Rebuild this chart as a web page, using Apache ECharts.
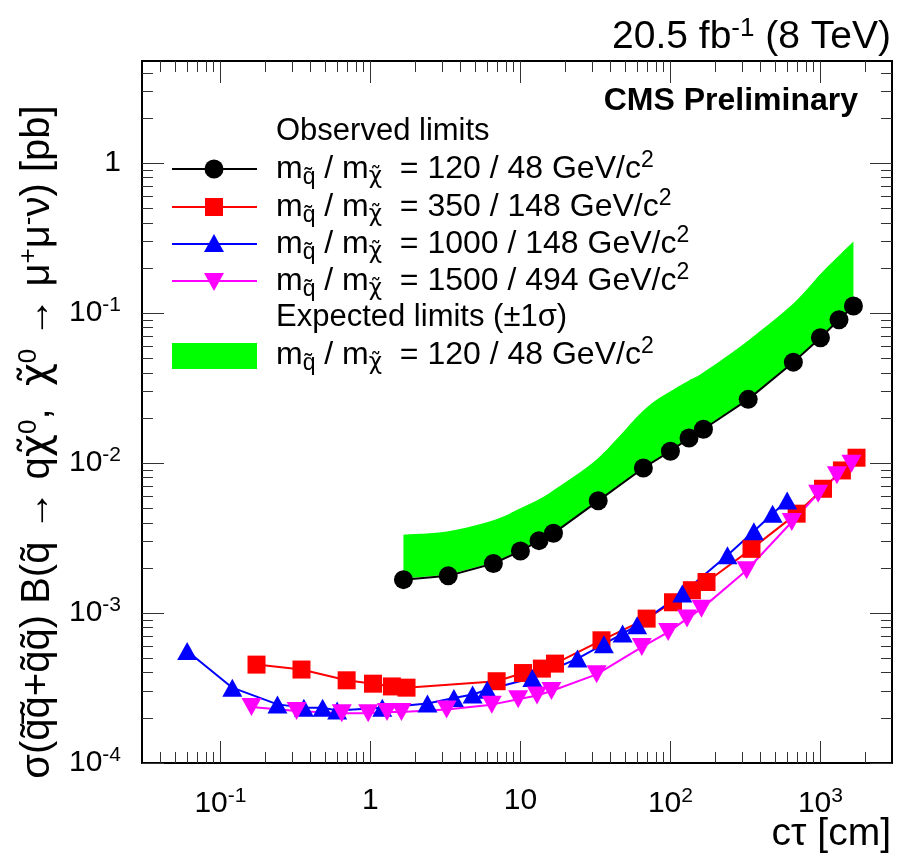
<!DOCTYPE html>
<html><head><meta charset="utf-8">
<script src="https://cdn.jsdelivr.net/npm/echarts@6/dist/echarts.min.js"></script>
<style>html,body{margin:0;padding:0;background:#fff}#c{width:897px;height:857px}</style>
</head><body><div id="c"></div>
<script>
// ---------------- data ----------------
const ctauBlack = [1.66, 3.3, 6.6, 10, 13.3, 16.6, 33, 66, 100, 133, 166, 330, 660, 1000, 1330, 1660];
const obs120 = [1.67e-3, 1.77e-3, 2.14e-3, 2.59e-3, 3.04e-3, 3.40e-3, 5.6e-3, 9.27e-3, 0.0120, 0.0147, 0.0168, 0.0266, 0.0471, 0.0686, 0.0904, 0.1114];
const expLow120 = [1.70e-3, 1.80e-3, 2.17e-3, 2.62e-3, 3.07e-3, 3.43e-3, 5.65e-3, 9.35e-3, 0.0121, 0.0148, 0.0170, 0.0269, 0.0476, 0.0693, 0.0913, 0.1100];
const expHigh120 = [3.33e-3, 3.51e-3, 4.15e-3, 4.99e-3, 5.73e-3, 6.58e-3, 0.0108, 0.0224, 0.0301, 0.0356, 0.0403, 0.0658, 0.116, 0.182, 0.242, 0.300];

const ctauRed = [0.174, 0.347, 0.694, 1.04, 1.39, 1.74, 6.94, 10.4, 13.9, 17.0, 34.7, 69.4, 104, 139, 174, 347, 694, 1040, 1390, 1740];
const obs350 = [4.53e-4, 4.20e-4, 3.56e-4, 3.38e-4, 3.24e-4, 3.18e-4, 3.51e-4, 3.98e-4, 4.26e-4, 4.60e-4, 6.58e-4, 9.18e-4, 1.18e-3, 1.42e-3, 1.61e-3, 2.68e-3, 4.60e-3, 6.74e-3, 8.93e-3, 0.01086];

const ctauBlue = [0.06, 0.12, 0.24, 0.36, 0.48, 0.6, 1.2, 2.4, 3.6, 4.8, 6.0, 12, 24, 36, 48, 60, 120, 240, 360, 480, 600];
const obs1000 = [5.58e-4, 3.18e-4, 2.46e-4, 2.34e-4, 2.34e-4, 2.24e-4, 2.34e-4, 2.49e-4, 2.71e-4, 2.86e-4, 3.08e-4, 3.69e-4, 4.97e-4, 6.2e-4, 7.3e-4, 8.28e-4, 1.35e-3, 2.43e-3, 3.51e-3, 4.6e-3, 5.64e-3];

const ctauMag = [0.161, 0.322, 0.644, 0.966, 1.29, 1.61, 3.22, 6.44, 9.66, 12.9, 16.1, 32.2, 64.4, 96.6, 129, 161, 322, 644, 966, 1288, 1610];
const obs1500 = [2.36e-4, 2.22e-4, 2.15e-4, 2.15e-4, 2.19e-4, 2.19e-4, 2.27e-4, 2.45e-4, 2.66e-4, 2.82e-4, 3.02e-4, 3.90e-4, 5.93e-4, 7.46e-4, 9.18e-4, 1.07e-3, 1.93e-3, 4.05e-3, 6.25e-3, 8.28e-3, 9.9e-3];

const legendMasses = ['120 / 48', '350 / 148', '1000 / 148', '1500 / 494'];
const xTickExp = [-1, 0, 1, 2, 3];
const yTickExp = [-4, -3, -2, -1, 0];
const xRange = [0.03, 3000];
const yRange = [1e-4, 4.8];

// ---------------- helpers ----------------
const FONT = '"Liberation Sans", Arial, Helvetica, sans-serif';
const FONT2 = '"DejaVu Sans", "Liberation Sans", sans-serif';
const L = v => Math.log10(v);
const pairs = (xs, ys) => xs.map((x, i) => [L(x), L(ys[i])]);
const xMin = L(xRange[0]), xMax = L(xRange[1]);
const yMin = L(yRange[0]), yMax = L(yRange[1]);
function minorTicks(lo, hi) {
  const out = [];
  for (let k = Math.floor(lo); k <= Math.ceil(hi); k++) {
    for (let m = 2; m <= 9; m++) {
      const v = k + Math.log10(m);
      if (v > lo + 1e-9 && v < hi - 1e-9) out.push(v);
    }
  }
  return out;
}
function expLabel(v) {
  const e = Math.round(v);
  if (e === 0) return '1';
  if (e === 1) return '10';
  return '10{sup|' + e + '}';
}
const tickStyle = { color: '#333', width: 1 };
const labelRich = { sup: { fontSize: 21, fontFamily: FONT, color: '#000', padding: [0, 0, 15, 0] } };

function makeAxis(dim, pos, major, withLabel) {
  const isX = dim === 'x';
  const lo = isX ? xMin : yMin, hi = isX ? xMax : yMax;
  const majors = isX ? xTickExp : yTickExp;
  return {
    type: 'value', position: pos, min: lo, max: hi, gridIndex: 0,
    axisLine: { show: false, onZero: false },
    splitLine: { show: false },
    axisTick: { show: true, inside: true, length: major ? 22 : 11,
      customValues: major ? majors : minorTicks(lo, hi), lineStyle: tickStyle },
    axisLabel: { show: withLabel, customValues: majors, formatter: expLabel,
      margin: isX ? 23 : 21, fontSize: 30, fontFamily: FONT, color: '#000', rich: labelRich },
    axisPointer: { show: false }
  };
}

function lineSeries(name, xs, ys, color, symbol, size, rotate) {
  return {
    type: 'line', name, data: pairs(xs, ys), xAxisIndex: 0, yAxisIndex: 0,
    symbol, symbolSize: size, symbolRotate: rotate || 0, showAllSymbol: true,
    itemStyle: { color }, lineStyle: { color, width: 2 },
    emphasis: { disabled: true }, z: 3, clip: true
  };
}

// smooth (Catmull-Rom) path through pixel points, then straight back along second list
function bandPath(up, lo) {
  const f = v => v.toFixed(2);
  let d = 'M' + f(up[0][0]) + ' ' + f(up[0][1]);
  for (let i = 0; i < up.length - 1; i++) {
    const p0 = up[i - 1] || up[i], p1 = up[i], p2 = up[i + 1], p3 = up[i + 2] || up[i + 1];
    const t = 1 / 6;
    const c1 = [p1[0] + (p2[0] - p0[0]) * t, p1[1] + (p2[1] - p0[1]) * t];
    const c2 = [p2[0] - (p3[0] - p1[0]) * t, p2[1] - (p3[1] - p1[1]) * t];
    d += ' C' + f(c1[0]) + ' ' + f(c1[1]) + ' ' + f(c2[0]) + ' ' + f(c2[1]) + ' ' + f(p2[0]) + ' ' + f(p2[1]);
  }
  for (let i = lo.length - 1; i >= 0; i--) d += ' L' + f(lo[i][0]) + ' ' + f(lo[i][1]);
  return d + ' Z';
}

// ---------------- legend graphics ----------------
const legRich = {
  sub: { fontSize: 23, fontFamily: FONT, color: '#000', padding: [17, 0, 0, 0] },
  chi: { fontSize: 23, fontFamily: FONT2, color: '#000', padding: [17, 0, 0, 0] },
  sup: { fontSize: 23, fontFamily: FONT, color: '#000', padding: [0, 0, 17, 0] }
};
const legX1 = 172, legX2 = 257, legSX = 214, legTX = 276;
const rowsY = [169, 207, 244, 281];
const rowColors = ['#000000', '#ff0000', '#0000ff', '#ff00ff'];
function legendText(x, y, masses) {
  return { type: 'text', x, y, style: {
    text: 'm{sub|q\u0303} / m{chi|\u03c7\u0303}  = ' + masses + ' GeV/c{sup|2}',
    font: '32px ' + FONT, fill: '#000', verticalAlign: 'middle', align: 'left', rich: legRich } };
}
const graphics = [];
graphics.push({ type: 'text', x: legTX, y: 131, style: { text: 'Observed limits', font: '31px ' + FONT, fill: '#000', verticalAlign: 'middle' } });
rowsY.forEach((y, i) => {
  const c = rowColors[i];
  graphics.push({ type: 'line', shape: { x1: legX1, y1: y, x2: legX2, y2: y }, style: { stroke: c, lineWidth: 2 } });
  if (i === 0) graphics.push({ type: 'circle', shape: { cx: legSX, cy: y, r: 9.5 }, style: { fill: c } });
  if (i === 1) graphics.push({ type: 'rect', shape: { x: legSX - 9, y: y - 9, width: 18, height: 18 }, style: { fill: c } });
  if (i === 2) graphics.push({ type: 'polygon', shape: { points: [[legSX, y - 10], [legSX - 10, y + 8], [legSX + 10, y + 8]] }, style: { fill: c } });
  if (i === 3) graphics.push({ type: 'polygon', shape: { points: [[legSX - 10, y - 8], [legSX + 10, y - 8], [legSX, y + 10]] }, style: { fill: c } });
  graphics.push(legendText(legTX, y, legendMasses[i]));
});
graphics.push({ type: 'text', x: legTX, y: 317, style: { text: 'Expected limits (\u00b11\u03c3)', font: '31px ' + FONT, fill: '#000', verticalAlign: 'middle' } });
graphics.push({ type: 'rect', shape: { x: legX1, y: 343, width: legX2 - legX1, height: 26 }, style: { fill: '#00ff00' } });
graphics.push(legendText(legTX, 355, legendMasses[0]));

// titles
graphics.push({ type: 'text', x: 891, y: 37, style: { text: '20.5 fb{sup|-1} (8 TeV)', font: '39px ' + FONT, fill: '#000', align: 'right', verticalAlign: 'middle',
  rich: { sup: { fontSize: 26, fontFamily: FONT, color: '#000', padding: [0, 0, 17, 0] } } } });
graphics.push({ type: 'text', x: 858, y: 101, style: { text: 'CMS Preliminary', font: 'bold 32px ' + FONT, fill: '#000', align: 'right', verticalAlign: 'middle' } });
graphics.push({ type: 'text', x: 891, y: 834, style: { text: 'c\u03c4 [cm]', font: '39px ' + FONT, fill: '#000', align: 'right', verticalAlign: 'middle' } });
graphics.push({ type: 'text', x: 38, y: 442, rotation: Math.PI / 2, style: {
  text: '\u03c3(q\u0303\u0304q\u0303+q\u0303q\u0303) B(q\u0303 \u2192 q{chi|\u03c7\u0303}{sup|0},  {chi|\u03c7\u0303}{sup|0} \u2192 \u03bc{sup|+}\u03bc{sup|-}\u03bd) [pb]',
  font: '40px ' + FONT, fill: '#000', align: 'center', verticalAlign: 'middle',
  rich: {
    sup: { fontSize: 26, fontFamily: FONT, color: '#000', padding: [0, 0, 18, 0] },
    chi: { fontSize: 40, fontFamily: FONT2, color: '#000' }
  } } });

// ---------------- chart ----------------
const chart = echarts.init(document.getElementById('c'), null, { renderer: 'canvas' });
chart.setOption({
  animation: false,
  backgroundColor: '#fff',
  grid: { left: 142, right: 5, top: 61, bottom: 94, show: true, borderColor: '#000', borderWidth: 2, backgroundColor: 'transparent' },
  xAxis: [
    makeAxis('x', 'bottom', true, true),
    makeAxis('x', 'bottom', false, false),
    makeAxis('x', 'top', true, false),
    makeAxis('x', 'top', false, false)
  ],
  yAxis: [
    makeAxis('y', 'left', true, true),
    makeAxis('y', 'left', false, false),
    makeAxis('y', 'right', true, false),
    makeAxis('y', 'right', false, false)
  ],
  series: [
    {
      type: 'custom', name: 'Expected limits', xAxisIndex: 0, yAxisIndex: 0, z: 1, silent: true,
      data: pairs(ctauBlack, expHigh120),
      renderItem: function (params, api) {
        if (params.dataIndex !== 0) return null;
        const up = ctauBlack.map((x, i) => api.coord([L(x), L(expHigh120[i])]));
        const lo = ctauBlack.map((x, i) => api.coord([L(x), L(expLow120[i])]));
        return { type: 'path', shape: { pathData: bandPath(up, lo) }, style: { fill: '#00ff00' } };
      }
    },
    lineSeries('120 / 48', ctauBlack, obs120, '#000000', 'circle', 19),
    lineSeries('350 / 148', ctauRed, obs350, '#ff0000', 'rect', 18),
    lineSeries('1000 / 148', ctauBlue, obs1000, '#0000ff', 'triangle', [20, 18]),
    lineSeries('1500 / 494', ctauMag, obs1500, '#ff00ff', 'triangle', [20, 18], 180)
  ],
  graphic: graphics
});
</script></body></html>
